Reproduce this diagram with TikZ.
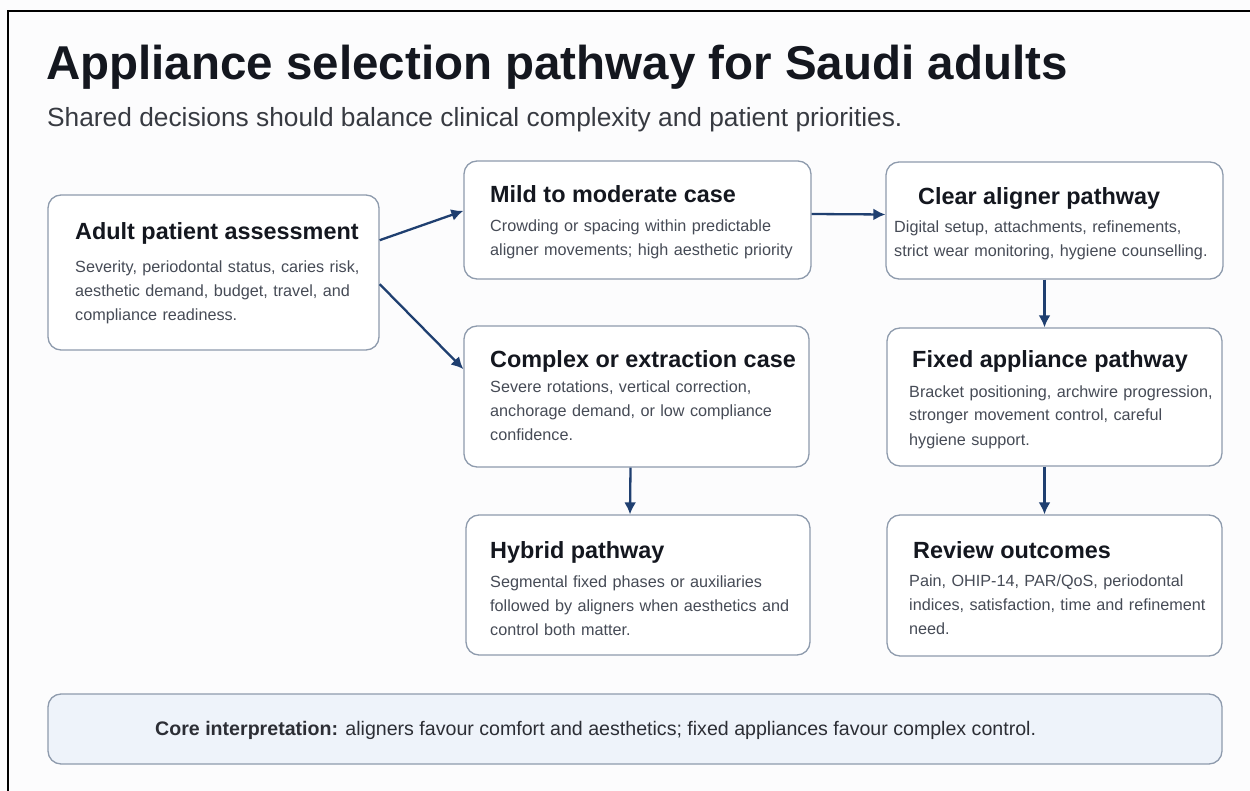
\documentclass[tikz,border=0pt]{standalone}
\usepackage{fontspec}
\setmainfont{Liberation Sans}
\usepackage{tikz}
\usetikzlibrary{arrows.meta}

\definecolor{ink}{HTML}{14171F}
\definecolor{bodyink}{HTML}{464B56}
\definecolor{boxline}{HTML}{8E9BAD}
\definecolor{navy}{HTML}{1F3F70}
\definecolor{page}{HTML}{FCFCFD}
\definecolor{band}{HTML}{EEF3FA}

\begin{document}
\begin{tikzpicture}[x=1pt,y=-1pt,
  box/.style={draw=boxline, line width=1.3pt, rounded corners=13pt, fill=white, inner sep=0pt},
  head/.style={anchor=base west, inner sep=0pt, text=ink, font=\fontsize{23.4}{27}\selectfont\bfseries},
  body/.style={anchor=base west, inner sep=0pt, text=bodyink, text width=340pt, align=left,
    font=\fontsize{16.2}{24}\selectfont},
  link/.style={navy, line width=2.3pt, -{Latex[length=12pt,width=12pt]}}]
% page and frame
\fill[page] (0,0) rectangle (1250,791);
\useasboundingbox (0,0) rectangle (1250,791);
\draw[black, line width=1.5pt] (8,791) -- (8,11) -- (1250,11);
%
\node[anchor=base west, inner sep=0pt, text=ink, font=\fontsize{47.5}{52}\selectfont\bfseries]
  (title) at (46,80) {Appliance selection pathway for Saudi adults};
\node[anchor=base west, inner sep=0pt, text=ink!85, font=\fontsize{26.3}{30}\selectfont]
  (subtitle) at (47,127) {Shared decisions should balance clinical complexity and patient priorities.};
%
% boxes
\node[box, minimum width=331pt, minimum height=155pt] (assess) at (213.5,272.5) {};
\node[box, minimum width=347pt, minimum height=118pt] (mild) at (637.5,220) {};
\node[box, minimum width=337pt, minimum height=117pt] (clear) at (1054.5,220.5) {};
\node[box, minimum width=345pt, minimum height=141pt] (complex) at (636.5,396.5) {};
\node[box, minimum width=335pt, minimum height=138pt] (fixed) at (1054.5,397) {};
\node[box, minimum width=344pt, minimum height=140pt] (hybrid) at (638,585) {};
\node[box, minimum width=335pt, minimum height=141pt] (review) at (1054.5,585.5) {};
%
% box texts
\node[head] (assess-t) at (75,240) {Adult patient assessment};
\node[body] (assess-b) at (75,273) {Severity, periodontal status, caries risk,\\
  aesthetic demand, budget, travel, and\\ compliance readiness.};
\node[head] (mild-t) at (490,203) {Mild to moderate case};
\node[body] (mild-b) at (490,232) {Crowding or spacing within predictable\\
  aligner movements; high aesthetic priority};
\node[head] (clear-t) at (918,205) {Clear aligner pathway};
\node[body] (clear-b) at (894,233) {Digital setup, attachments, refinements,\\
  strict wear monitoring, hygiene counselling.};
\node[head] (complex-t) at (490,367) {Complex or extraction case};
\node[body] (complex-b) at (490,392) {Severe rotations, vertical correction,\\
  anchorage demand, or low compliance\\ confidence.};
\node[head] (fixed-t) at (912,367) {Fixed appliance pathway};
\node[body] (fixed-b) at (909,397) {Bracket positioning, archwire progression,\\
  stronger movement control, careful\\ hygiene support.};
\node[head] (hybrid-t) at (490,558) {Hybrid pathway};
\node[body] (hybrid-b) at (490,587) {Segmental fixed phases or auxiliaries\\
  followed by aligners when aesthetics and\\ control both matter.};
\node[head] (review-t) at (913,558) {Review outcomes};
\node[body] (review-b) at (909,586) {Pain, OHIP-14, PAR/QoS, periodontal\\
  indices, satisfaction, time and refinement\\ need.};
%
% arrows
\draw[link] (assess.11) -- (mild.177);
\draw[link] (assess.-4) -- (complex.171);
\draw[link] ([yshift=6pt]mild.east) -- ([yshift=6pt]clear.west);
\draw[link] ([xshift=-10pt]clear.south) -- ([xshift=-10pt]fixed.north);
\draw[link] ([xshift=-6pt]complex.south) -- ([xshift=-8pt]hybrid.north);
\draw[link] ([xshift=-10pt]fixed.south) -- ([xshift=-10pt]review.north);
%
% bottom note
\node[box, fill=band, minimum width=1174pt, minimum height=70pt] (core) at (635,729) {};
\node[anchor=base west, inner sep=0pt, text=ink!90, font=\fontsize{19.6}{23}\selectfont]
  (core-t) at (155,735) {\textbf{Core interpretation:} aligners favour comfort and aesthetics; fixed appliances favour complex control.};
\end{tikzpicture}
\end{document}
